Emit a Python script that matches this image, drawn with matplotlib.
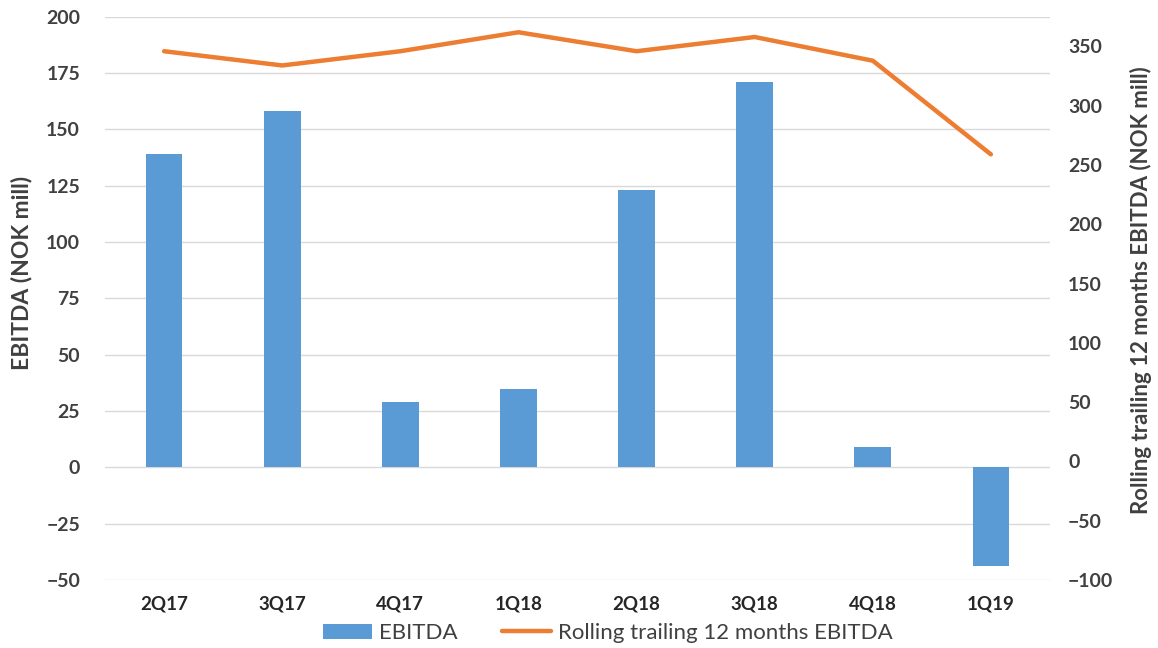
import matplotlib
matplotlib.use("Agg")
import matplotlib.pyplot as plt
import numpy as np

quarters = ["2Q17", "3Q17", "4Q17", "1Q18", "2Q18", "3Q18", "4Q18", "1Q19"]
ebitda = [139, 158, 29, 35, 123, 171, 9, -44]
rolling_12m = [346, 334, 346, 362, 346, 358, 338, 259]

left_ticks = list(range(-50, 201, 25))
right_ticks = list(range(-100, 351, 50))

BAR_C = "#5b9bd5"
LINE_C = "#ed7d31"
TXT_C = "#404040"

plt.rcParams["font.family"] = ["Lato", "DejaVu Sans"]

fig = plt.figure(figsize=(11.58, 6.48), dpi=100)
ax = fig.add_axes([0.0907, 0.105, 0.816, 0.869])
ax2 = ax.twinx()

x = np.arange(len(quarters))
bars = ax.bar(x, ebitda, width=0.31, color=BAR_C, zorder=2, label="EBITDA")
line, = ax2.plot(x, rolling_12m, color=LINE_C, lw=3.2, solid_capstyle="round",
                 label="Rolling trailing 12 months EBITDA")

ax.set_xlim(-0.5, len(quarters) - 0.5)
ax.set_ylim(-50, 200)
ax.set_yticks(left_ticks)
ax2.set_ylim(-100, 375)
ax2.set_yticks(right_ticks)

ax.grid(axis="y", color="#d9d9d9", lw=1, zorder=0)
ax.set_axisbelow(True)
for a in (ax, ax2):
    for s in a.spines.values():
        s.set_visible(False)
    a.tick_params(length=0)

ax.set_xticks(x)
ax.set_xticklabels(quarters, fontsize=13.5, fontweight="bold", color="#262626")
ax.tick_params(axis="x", pad=11)
ax.tick_params(axis="y", pad=18, labelsize=14, labelcolor=TXT_C)
ax2.tick_params(axis="y", pad=13, labelsize=14, labelcolor=TXT_C)
for t in ax.get_yticklabels() + ax2.get_yticklabels():
    t.set_fontweight("bold")

ax.set_ylabel("EBITDA (NOK mill)", fontsize=16.5, fontweight="bold", color=TXT_C)
ax.yaxis.set_label_coords(-0.077, 0.545)
ax2.set_ylabel("Rolling trailing 12 months EBITDA (NOK mill)", fontsize=16,
               fontweight="bold", color=TXT_C)
ax2.yaxis.set_label_coords(1.085, 0.515)

fig.legend([bars, line], ["EBITDA", "Rolling trailing 12 months EBITDA"],
           loc="center", bbox_to_anchor=(0.525, 0.023), ncol=2, frameon=False,
           fontsize=16, handlelength=2.2, columnspacing=2.0, handletextpad=0.3,
           labelcolor=TXT_C)

fig.savefig("out.png", dpi=100)
